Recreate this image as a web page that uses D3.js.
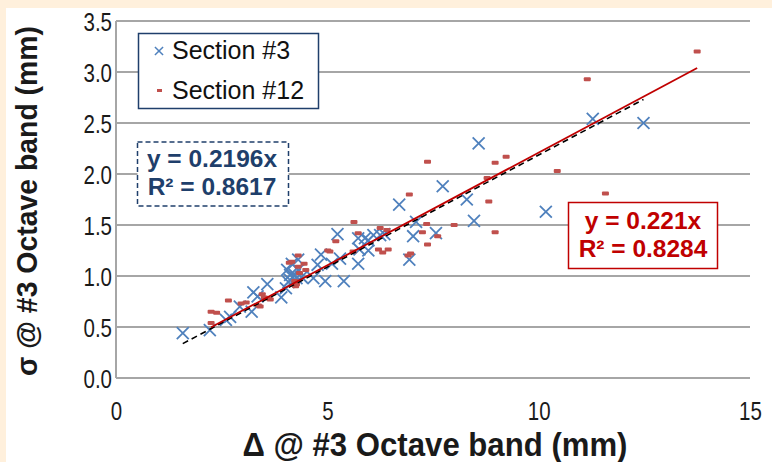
<!DOCTYPE html>
<html>
<head>
<meta charset="utf-8">
<script src="https://cdn.jsdelivr.net/npm/d3@7"></script>
<style>
  html, body { margin: 0; padding: 0; background: #fff0dc; }
  svg { display: block; }
</style>
</head>
<body>
<svg id="chart" width="772" height="462"></svg>
<script>
// Section #3 measurements: Δ (x) and σ (y), mm
const section3X = [1.58, 2.22, 2.60, 2.70, 2.93, 3.21, 3.25, 3.35, 3.58, 3.91, 4.02, 4.05, 4.08, 4.12, 4.12, 4.16,
  4.23, 4.27, 4.31, 4.31, 4.39, 4.67, 4.77, 4.85, 4.95, 5.11, 5.24, 5.30, 5.39, 5.73, 5.73, 5.76, 5.89, 5.97,
  5.97, 6.09, 6.25, 6.35, 6.70, 6.94, 7.03, 7.10, 7.57, 7.73, 8.30, 8.47, 8.58, 10.17, 11.28, 12.48];
const section3Y = [0.44, 0.47, 0.57, 0.60, 0.70, 0.65, 0.84, 0.80, 0.92, 0.79, 0.88, 1.06, 0.94, 1.01, 0.96, 1.12,
  1.01, 0.98, 1.16, 1.06, 0.99, 0.98, 1.11, 1.21, 0.95, 1.12, 1.41, 1.17, 0.95, 1.12, 1.37, 1.26, 1.37, 1.25,
  1.35, 1.40, 1.40, 1.41, 1.70, 1.16, 1.39, 1.53, 1.42, 1.88, 1.75, 1.54, 2.30, 1.63, 2.54, 2.50];

// Section #12 measurements
const section12X = [2.25, 2.25, 2.38, 2.66, 2.96, 3.08, 3.37, 3.41, 3.46, 3.51, 3.62, 3.65, 4.10, 4.16, 4.23, 4.25,
  4.27, 4.31, 4.31, 4.34, 4.45, 4.49, 5.01, 5.06, 5.20, 5.61, 5.63, 5.73, 6.21, 6.25, 6.31, 6.41, 6.44, 6.91,
  6.94, 6.97, 7.25, 7.35, 7.37, 7.37, 7.61, 8.00, 8.78, 8.82, 8.97, 8.97, 9.23, 10.44, 11.15, 11.58, 13.75];
const section12Y = [0.54, 0.65, 0.64, 0.76, 0.73, 0.74, 0.71, 0.70, 0.82, 0.79, 0.78, 0.77, 1.13, 1.14, 0.95, 0.90,
  0.92, 1.20, 1.09, 1.03, 1.12, 1.06, 1.25, 1.24, 1.34, 1.24, 1.53, 1.42, 1.26, 1.47, 1.23, 1.45, 1.26, 1.20,
  1.80, 1.22, 1.43, 1.51, 1.31, 2.12, 1.39, 1.50, 1.96, 1.73, 2.11, 1.43, 2.17, 2.03, 2.93, 1.81, 3.20];

// Linear fits through the origin
const slope3 = 0.2196, r2_3 = 0.8617;
const slope12 = 0.221, r2_12 = 0.8284;

const xTicks = [0, 5, 10, 15];
const yTicks = [0, 0.5, 1.0, 1.5, 2.0, 2.5, 3.0, 3.5];
const seriesNames = ["Section #3", "Section #12"];

const BLUE = "#4f81bd", RED = "#c0504d", NAVY = "#1f3f6b", DARKRED = "#c00000";
const sans = "'Liberation Sans', Arial, sans-serif";
const CONDENSE = 0.82; // horizontal squeeze giving a narrow face for axis text

const svg = d3.select("#chart");

// white chart area inside the cream frame
svg.append("rect").attr("x", 6).attr("y", 8).attr("width", 772 - 6).attr("height", 462 - 8).attr("fill", "#ffffff");

const x = d3.scaleLinear().domain([0, 15]).range([116, 750]);
const y = d3.scaleLinear().domain([0, 3.5]).range([378, 21]);

// horizontal gridlines
svg.append("g").selectAll("line").data(yTicks).join("line")
  .attr("x1", x(0)).attr("x2", x(15))
  .attr("y1", d => y(d)).attr("y2", d => y(d))
  .attr("stroke", "#a6a6a6").attr("stroke-width", 2);

// vertical axis line
svg.append("line").attr("x1", x(0)).attr("x2", x(0)).attr("y1", y(3.5)).attr("y2", y(0))
  .attr("stroke", "#a6a6a6").attr("stroke-width", 2);

// y tick labels
const yAxis = d3.axisLeft(y).tickValues(yTicks).tickFormat(d3.format(".1f")).tickSize(0).tickPadding(0);
const gy = svg.append("g").attr("transform", `translate(${x(0) - 4},0)`).call(yAxis);
gy.select(".domain").remove();
gy.selectAll("text").attr("font-family", sans).attr("font-size", 25).attr("fill", "#1a1a1a")
  .attr("x", 0).attr("dy", "0.36em").attr("transform", `scale(${CONDENSE},1)`);

// x tick labels
const xAxis = d3.axisBottom(x).tickValues(xTicks).tickFormat(d3.format("d")).tickSize(0).tickPadding(0);
const gx = svg.append("g").attr("transform", `translate(0,${y(0) + 24})`).call(xAxis);
gx.select(".domain").remove();
gx.selectAll("text").attr("font-family", sans).attr("font-size", 25).attr("fill", "#1a1a1a")
  .attr("transform", `scale(${CONDENSE},1)`);

// axis titles
svg.append("text").attr("x", 435).attr("y", 456).attr("text-anchor", "middle")
  .attr("font-family", sans).attr("font-weight", "bold").attr("font-size", 33).attr("fill", "#1a1a1a")
  .attr("textLength", 385).attr("lengthAdjust", "spacingAndGlyphs")
  .text("Δ @ #3 Octave band (mm)");
svg.append("text").attr("transform", "translate(37,201) rotate(-90)").attr("text-anchor", "middle")
  .attr("font-family", sans).attr("font-weight", "bold").attr("font-size", 29).attr("fill", "#1a1a1a")
  .attr("textLength", 350).attr("lengthAdjust", "spacingAndGlyphs")
  .text("σ @ #3 Octave band (mm)");

// markers
const pts3 = section3X.map((v, i) => [v, section3Y[i]]);
const pts12 = section12X.map((v, i) => [v, section12Y[i]]);
const cross = d3.symbol().type(d3.symbolX).size(95);

svg.append("g").selectAll("path").data(pts3).join("path")
  .attr("d", cross).attr("transform", d => `translate(${x(d[0])},${y(d[1])})`)
  .attr("fill", "none").attr("stroke", BLUE).attr("stroke-width", 1.8);

svg.append("g").selectAll("rect").data(pts12).join("rect")
  .attr("x", d => x(d[0]) - 3.5).attr("y", d => y(d[1]) - 2)
  .attr("width", 7).attr("height", 4).attr("rx", 1)
  .attr("fill", RED);

// trendlines across each series' range
const line = d3.line().x(d => x(d[0])).y(d => y(d[1]));
const ext3 = d3.extent(section3X), ext12 = d3.extent(section12X);
svg.append("path").attr("d", line(ext3.map(v => [v, slope3 * v])))
  .attr("fill", "none").attr("stroke", "#000").attr("stroke-width", 1.6).attr("stroke-dasharray", "6,4")
  .attr("transform", "translate(0,1)");
svg.append("path").attr("d", line(ext12.map(v => [v, slope12 * v])))
  .attr("fill", "none").attr("stroke", DARKRED).attr("stroke-width", 1.8);

// legend
const lg = svg.append("g");
lg.append("rect").attr("x", 138.5).attr("y", 33.5).attr("width", 180).attr("height", 75)
  .attr("fill", "#fff").attr("stroke", NAVY).attr("stroke-width", 1.5);
lg.append("path").attr("d", d3.symbol().type(d3.symbolX).size(45))
  .attr("transform", "translate(159,51)").attr("fill", "none").attr("stroke", BLUE).attr("stroke-width", 1.5);
lg.append("rect").attr("x", 157).attr("y", 89).attr("width", 5).attr("height", 3).attr("fill", RED);
lg.selectAll("text").data(seriesNames).join("text")
  .attr("x", 172).attr("y", (d, i) => 59 + i * 40)
  .attr("font-family", sans).attr("font-size", 25).attr("fill", "#111")
  .text(d => d);

// fit annotation for section #3
const a3 = svg.append("g");
a3.append("rect").attr("x", 137.5).attr("y", 142).attr("width", 151).attr("height", 64)
  .attr("fill", "#fff").attr("stroke", NAVY).attr("stroke-width", 1.5).attr("stroke-dasharray", "5,3");
a3.selectAll("text").data([`y = ${slope3}x`, `R² = ${r2_3}`]).join("text")
  .attr("x", 212).attr("y", (d, i) => 167 + i * 28).attr("text-anchor", "middle")
  .attr("font-family", sans).attr("font-weight", "bold").attr("font-size", 24.5).attr("fill", NAVY)
  .text(d => d);

// fit annotation for section #12
const a12 = svg.append("g");
a12.append("rect").attr("x", 568.5).attr("y", 202.5).attr("width", 149).attr("height", 66)
  .attr("fill", "#fff").attr("stroke", DARKRED).attr("stroke-width", 1.5);
a12.selectAll("text").data([`y = ${slope12}x`, `R² = ${r2_12}`]).join("text")
  .attr("x", 643).attr("y", (d, i) => 229 + i * 28).attr("text-anchor", "middle")
  .attr("font-family", sans).attr("font-weight", "bold").attr("font-size", 24.5).attr("fill", DARKRED)
  .text(d => d);
</script>
</body>
</html>
